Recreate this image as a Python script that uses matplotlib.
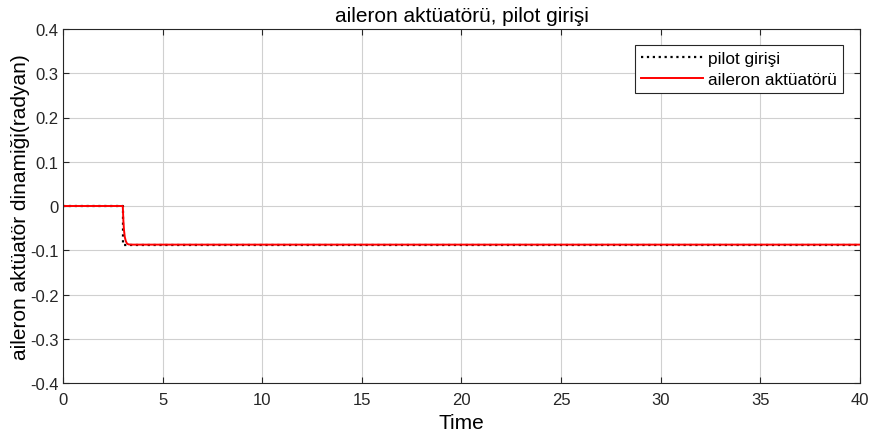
import numpy as np
import matplotlib.pyplot as plt

plt.rcParams['font.family'] = ['Liberation Sans', 'DejaVu Sans']

# pilot girişi (step input)
t_pilot = [0, 3.0, 3.0, 40]
pilot = [0, 0, -0.0873, -0.0873]

# aileron aktüatörü (actuator response)
t_act = [0, 3.0, 3.03, 3.06, 3.1, 3.15, 3.2, 3.25, 3.3, 3.4, 3.5, 40]
act = [0, 0, -0.033, -0.054, -0.070, -0.079, -0.084, -0.086, -0.0868, -0.0872, -0.0873, -0.0873]

xticks = [0, 5, 10, 15, 20, 25, 30, 35, 40]
yticks = [-0.4, -0.3, -0.2, -0.1, 0, 0.1, 0.2, 0.3, 0.4]
yticklabels = ['-0.4', '-0.3', '-0.2', '-0.1', '0', '0.1', '0.2', '0.3', '0.4']

fig = plt.figure(figsize=(8.7, 4.39), dpi=100)
ax = fig.add_axes([63 / 870, 1 - 384 / 439, 797 / 870, 354 / 439])

ax.plot(t_pilot, pilot, color='black', linestyle=':', linewidth=1.6, label='pilot girişi')
ax.plot(t_act, act, color='red', linewidth=1.4, label='aileron aktüatörü')

ax.set_xlim(0, 40)
ax.set_ylim(-0.4, 0.4)
ax.set_xticks(xticks)
ax.set_yticks(yticks)
ax.set_yticklabels(yticklabels)
ax.tick_params(direction='in', labelsize=12, length=4, top=True, right=True,
               colors='#262626')
ax.tick_params(axis='y', pad=3)
ax.tick_params(axis='x', pad=6.5)
ax.grid(True, color='#d0d0d0', linewidth=0.8)
for s in ax.spines.values():
    s.set_color('#262626')
    s.set_linewidth(0.8)

ax.set_title('aileron aktüatörü, pilot girişi', fontsize=15, pad=6)
ax.set_xlabel('Time', fontsize=15, labelpad=4)
ax.set_ylabel('aileron aktüatör dinamiği(radyan)', fontsize=15, labelpad=0)

leg = ax.legend(loc='upper right', fontsize=12.4, fancybox=False, framealpha=1,
                edgecolor='#262626', bbox_to_anchor=(843 / 870, 1 - 46 / 439),
                bbox_transform=fig.transFigure, borderaxespad=0, handlelength=3.6,
                handletextpad=0.3, borderpad=0.35, labelspacing=0.33)
leg.get_frame().set_linewidth(0.8)

fig.savefig('out.png', dpi=100)
